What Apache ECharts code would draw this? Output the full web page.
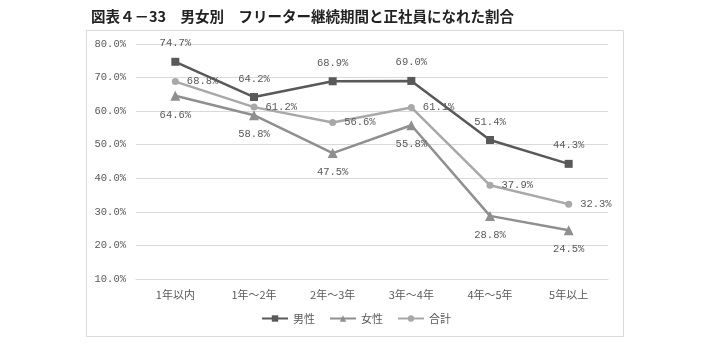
<!DOCTYPE html>
<html>
<head>
<meta charset="utf-8">
<script src="https://cdn.jsdelivr.net/npm/echarts@6/dist/echarts.min.js"></script>
<style>
  html, body { margin: 0; padding: 0; background: #fff; }
  #chart { width: 712px; height: 346px; }
</style>
</head>
<body>
<div id="chart"></div>
<script>
// 継続期間カテゴリ
const categories = ['1年以内', '1年～2年', '2年～3年', '3年～4年', '4年～5年', '5年以上'];
// 正社員になれた割合（%）
const male   = [74.7, 64.2, 68.9, 69.0, 51.4, 44.3];
const female = [64.6, 58.8, 47.5, 55.8, 28.8, 24.5];
const total  = [68.8, 61.2, 56.6, 61.1, 37.9, 32.3];
const seriesNames = ['男性', '女性', '合計'];

const monoFont = '"Liberation Mono", "Noto Sans CJK JP", monospace';
const jpFont = '"Noto Sans CJK JP", sans-serif';
const textColor = '#595959';

const labelStyle = (pos, dist) => ({
  show: true,
  position: pos,
  distance: dist,
  formatter: p => p.value.toFixed(1) + '%',
  fontFamily: monoFont,
  fontSize: 10.5,
  color: textColor
});

const chart = echarts.init(document.getElementById('chart'), null, { renderer: 'canvas' });
chart.setOption({
  animation: false,
  backgroundColor: '#fff',
  title: {
    text: '図表４－33　男女別　フリーター継続期間と正社員になれた割合',
    left: 86,
    top: 4,
    textStyle: { fontFamily: jpFont, fontSize: 14.5, fontWeight: 'bold', color: '#222' }
  },
  graphic: [{
    type: 'rect',
    shape: { x: 86.5, y: 30.5, width: 537, height: 306 },
    style: { fill: 'none', stroke: '#d9d9d9', lineWidth: 1 },
    silent: true
  }],
  grid: { left: 136, right: 104, top: 44, bottom: 67 },
  legend: {
    data: seriesNames,
    bottom: 17,
    left: 'center',
    itemWidth: 26,
    itemHeight: 8,
    itemGap: 14,
    textStyle: { fontFamily: jpFont, fontSize: 11, color: textColor }
  },
  xAxis: {
    type: 'category',
    data: categories,
    boundaryGap: true,
    axisLine: { lineStyle: { color: '#d9d9d9', width: 1 } },
    axisTick: { show: false },
    axisLabel: { fontFamily: jpFont, fontSize: 11, color: textColor, margin: 10 }
  },
  yAxis: {
    type: 'value',
    min: 10,
    max: 80,
    interval: 10,
    axisLine: { show: false },
    axisTick: { show: false },
    splitLine: { lineStyle: { color: '#d9d9d9', width: 1 } },
    axisLabel: {
      formatter: v => v.toFixed(1) + '%',
      fontFamily: monoFont,
      fontSize: 10.5,
      color: textColor,
      margin: 10
    }
  },
  series: [
    {
      name: seriesNames[0], type: 'line', data: male,
      symbol: 'rect', symbolSize: 8,
      lineStyle: { color: '#595959', width: 2.5 },
      itemStyle: { color: '#595959' },
      label: labelStyle('top', 9),
      z: 3
    },
    {
      name: seriesNames[1], type: 'line', data: female,
      symbol: 'triangle', symbolSize: 10,
      lineStyle: { color: '#8f8f8f', width: 2.5 },
      itemStyle: { color: '#8f8f8f' },
      label: labelStyle('bottom', 9),
      z: 2
    },
    {
      name: seriesNames[2], type: 'line', data: total,
      symbol: 'circle', symbolSize: 7,
      lineStyle: { color: '#a8a8a8', width: 2.5 },
      itemStyle: { color: '#a8a8a8' },
      label: labelStyle('right', 8),
      z: 2
    }
  ]
});
</script>
</body>
</html>
